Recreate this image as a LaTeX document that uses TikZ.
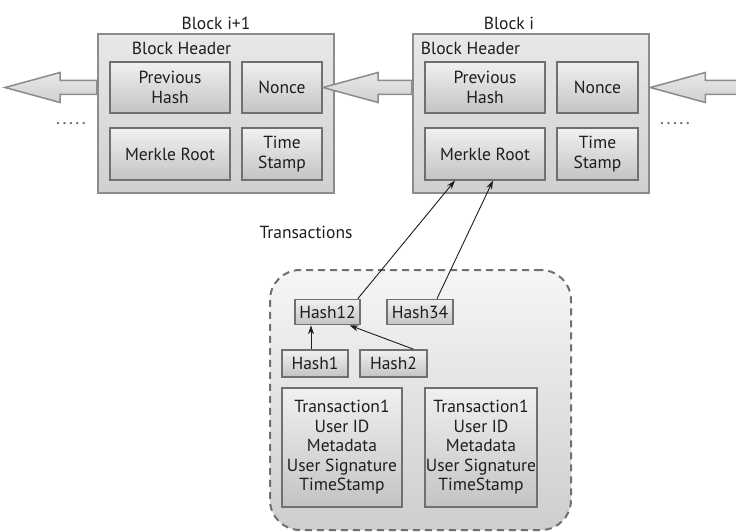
\documentclass[tikz,border=0pt]{standalone}
\usepackage{fontspec}
\setmainfont{PT Sans}
\usetikzlibrary{calc,arrows.meta,positioning}

\definecolor{blockedge}{RGB}{140,140,140}
\definecolor{blocktop}{RGB}{232,232,232}
\definecolor{blockbot}{RGB}{208,208,208}
\definecolor{fieldedge}{RGB}{112,112,112}
\definecolor{fieldtop}{RGB}{240,240,240}
\definecolor{fieldbot}{RGB}{196,196,196}
\definecolor{pooltop}{RGB}{246,246,246}
\definecolor{poolbot}{RGB}{206,206,206}
\definecolor{inkgray}{RGB}{30,30,30}

% hollow block arrow, pointing left from #1 to #2
\newcommand\fatarrow[2]{%
  \path[bigarrow] let \p1=(#1), \p2=(#2) in
    (\x1,\y2+7pt) -- (\x2+55pt,\y2+7pt) -- (\x2+55pt,\y2+15pt) -- (\x2,\y2)
    -- (\x2+55pt,\y2-15pt) -- (\x2+55pt,\y2-7pt) -- (\x1,\y2-7pt) -- cycle;}

\begin{document}
\begin{tikzpicture}[x=1pt, y=-1pt,
    font=\fontsize{17.5}{19.5}\selectfont, text=inkgray,
    block/.style={rectangle, draw=blockedge, line width=2.5pt, top color=blocktop, bottom color=blockbot, minimum width=236pt, minimum height=159pt, inner sep=0pt},
    field/.style={rectangle, draw=fieldedge, line width=2pt, top color=fieldtop, bottom color=fieldbot, align=center, inner sep=0pt, minimum height=51pt},
    hashbox/.style={field, line width=1.6pt, minimum height=25pt, inner sep=2pt},
    txbox/.style={field, minimum height=119pt},
    pool/.style={rectangle, draw=fieldedge, line width=2pt, dash pattern=on 7pt off 5pt, rounded corners=30pt, top color=pooltop, bottom color=poolbot, minimum width=301pt, minimum height=260pt},
    bigarrow/.style={draw=blockedge, line width=1.5pt, top color=blocktop, bottom color=blockbot},
    link/.style={-{Stealth[length=9pt,width=6pt]}, line width=0.9pt, draw=inkgray},
    dots/.style={text=black!60, font=\bfseries\fontsize{14}{16}\selectfont, inner sep=0pt}
]
\useasboundingbox (0,0) rectangle (736,532);

% the two chained blocks
\node[block] (b1) at (216,113.5) {};
\node[block] (b2) at (531,113.5) {};
\node[above=0pt of b1] (lb1) {Block i+1};
\node[above=0pt of b2, xshift=-22pt] (lb2) {Block i};
\node[anchor=west, inner sep=0pt] (hd1) at ([shift={(35,16)}]b1.north west) {Block Header};
\node[anchor=west, inner sep=0pt] (hd2) at ([shift={(9,16)}]b2.north west) {Block Header};

\node[field, minimum width=120pt] (ph1) at (170,87.5) {Previous\\Hash};
\node[field, minimum width=80pt] (nc1) at (282,87.5) {Nonce};
\node[field, minimum width=120pt] (mr1) at (170,154) {Merkle Root};
\node[field, minimum width=80pt] (ts1) at (282,154) {Time\\Stamp};

\node[field, minimum width=120pt] (ph2) at (485,87.5) {Previous\\Hash};
\node[field, minimum width=81pt] (nc2) at (597.5,87.5) {Nonce};
\node[field, minimum width=120pt] (mr2) at (485,154) {Merkle Root};
\node[field, minimum width=81pt] (ts2) at (597.5,154) {Time\\Stamp};

% links between the blocks
\coordinate (farleft) at (5,87.5);
\coordinate (farright) at (745,87.5);
\fatarrow{b1.west}{farleft}
\fatarrow{b2.west}{nc1.east}
\fatarrow{farright}{b2.east |- nc2.east}

\node[dots] (dl) at (71,124) {.\kern3pt.\kern3pt.\kern3pt.\kern3pt.};
\node[dots] (dr) at (675,124) {.\kern3pt.\kern3pt.\kern3pt.\kern3pt.};

% transaction pool with its merkle tree
\node (txl) at (306,232) {Transactions};
\node[pool] (pl) at (420.5,400) {};

\node[hashbox, minimum width=65pt] (h12) at (327.5,312) {Hash12};
\node[hashbox, minimum width=66pt] (h34) at (420,312) {Hash34};
\node[hashbox, minimum width=66pt, minimum height=27pt] (h1) at (315,363.5) {Hash1};
\node[hashbox, minimum width=67pt, minimum height=27pt] (h2) at (393.5,363.5) {Hash2};

\node[txbox, minimum width=120pt] (tx1) at (342,447.5) {Transaction1\\User ID\\Metadata\\User Signature\\TimeStamp};
\node[txbox, minimum width=112pt] (tx2) at (481,447.5) {Transaction1\\User ID\\Metadata\\User Signature\\TimeStamp};

\draw[link] ([xshift=-4pt]h1.north) -- ([xshift=-4pt]h1.north |- h12.south);
\draw[link] ([xshift=20pt]h2.north) -- ([xshift=22pt]h12.south);
\draw[link] ([xshift=-3pt]h12.north east) -- ([xshift=-30pt]mr2.south);
\draw[link] ([xshift=17pt]h34.north) -- ([xshift=8pt]mr2.south);

\end{tikzpicture}
\end{document}
